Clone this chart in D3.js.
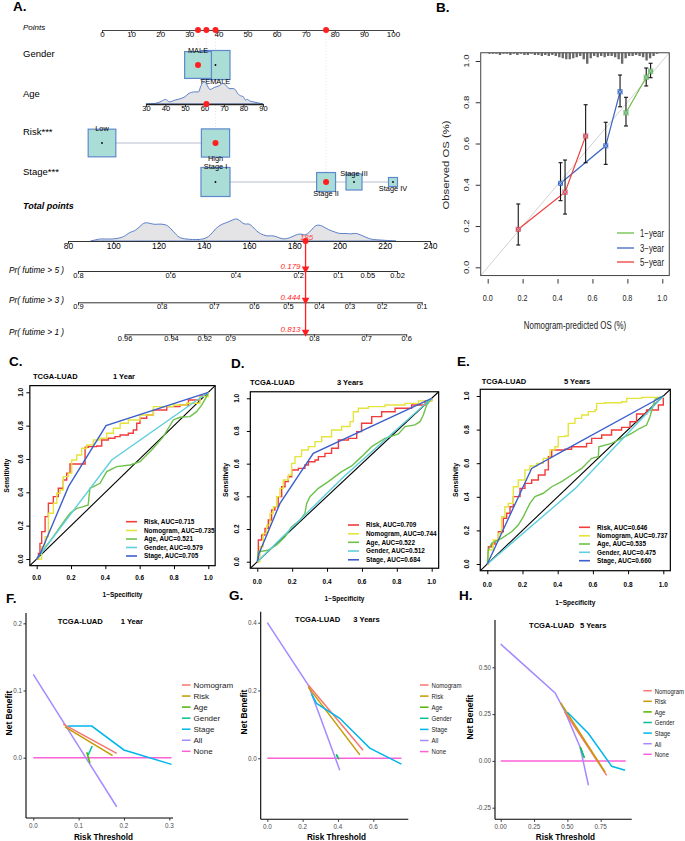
<!DOCTYPE html>
<html><head><meta charset="utf-8">
<script src="https://cdnjs.cloudflare.com/ajax/libs/d3/7.8.5/d3.min.js"></script>
<style>html,body{margin:0;padding:0;background:#fff;}svg{display:block;}</style>
</head><body>
<svg id="chart" width="685" height="841" xmlns="http://www.w3.org/2000/svg"></svg>
<script>
// ======================= DATA =======================
// --- Panel A: nomogram ---
const pointsTicks = [0,10,20,30,40,50,60,70,80,90,100];
const genderLevels = ["MALE","FEMALE"];
const genderPoints = [33,39];
const genderFreq = [0.46,0.54];
const ageTicks = [30,40,50,60,70,80,90];
const ageRangePoints = [15.1,55.3];          // points at age 30 and at age 90
const ageDensity = [[30,0],[35,0.03],[38,0.13],[40,0.21],[42,0.10],[45,0.18],[48,0.25],[50,0.33],[52,0.48],[55,0.55],[57,0.55],[58,0.78],[59,0.96],[60,1.0],[61,0.93],[62,0.75],[63,0.66],[64,0.70],[65,0.75],[66,0.78],[67,0.81],[68,0.85],[69,0.93],[70,0.93],[71,0.85],[72,0.75],[73,0.70],[75,0.70],[76,0.63],[77,0.48],[78,0.40],[79,0.36],[80,0.33],[81,0.18],[82,0.21],[83,0.15],[85,0.10],[87,0.06],[90,0]];
const riskLevels = ["Low","High"];
const riskPoints = [0,39];
const riskFreq = [0.49,0.51];
const stageLevels = ["Stage I","Stage II","Stage III","Stage IV"];
const stagePoints = [39,77,86.6,100];
const stageFreq = [0.54,0.23,0.164,0.052];
const selGender = "MALE", selAge = 61, selRisk = "High", selStage = "Stage II";
const totalTicks = [80,100,120,140,160,180,200,220,240];
const totalDensity = [[90,0],[93,0.07],[95,0.10],[100,0.07],[105,0.17],[107,0.39],[110,0.43],[113,0.78],[115,0.81],[118,0.71],[120,0.74],[123,0.73],[125,0.60],[128,0.24],[130,0.10],[135,0.06],[140,0.06],[143,0.24],[145,0.53],[148,0.74],[150,0.79],[153,0.93],[155,1.0],[158,0.67],[160,0.81],[163,0.46],[165,0.31],[168,0.20],[170,0.24],[172,0.20],[175,0.06],[178,0.13],[180,0.24],[183,0.34],[185,0.20],[188,0.53],[190,0.74],[193,0.63],[195,0.49],[198,0.39],[200,0.31],[203,0.34],[205,0.29],[207,0.36],[210,0.24],[213,0.10],[215,0.06],[220,0.03],[225,0]];
const totalScore = 185;
const survLabels = ["Pr( futime > 5 )","Pr( futime > 3 )","Pr( futime > 1 )"];
const survPred = [0.179,0.444,0.813];
const survTicks = [[0.8,0.6,0.4,0.2,0.1,0.05,0.02],[0.9,0.8,0.7,0.6,0.5,0.4,0.3,0.2,0.1],[0.96,0.94,0.92,0.9,0.8,0.7,0.6]];
const cloglogSlope = 0.0203;   // change of log(-log S) per total point

// --- Panel B: calibration [predicted, observed, lower, upper] ---
const calib1y = [[0.792,0.749,0.685,0.824],[0.908,0.921,0.879,0.966],[0.933,0.951,0.919,0.989]];
const calib3y = [[0.417,0.407,0.323,0.507],[0.676,0.589,0.499,0.703],[0.758,0.851,0.778,0.932]];
const calib5y = [[0.175,0.184,0.108,0.307],[0.443,0.364,0.258,0.520],[0.561,0.636,0.507,0.788]];
const calibTicks = [0,0.2,0.4,0.6,0.8,1.0];
const predHist = [1,1,1,2,1,1,2,1,2,1,2,2,1,2,2,3,2,3,2,3,4,5,6,6,5,4,3,6,10,5,3,4,3,4,3,3,4,6,10,5,3,3,2,3,4,7,5,3,1,0];

// --- Panels C-E: ROC curves [1-specificity, sensitivity] ---
const rocNames = ["Risk","Nomogram","Age","Gender","Stage"];
const auc1y = [0.715,0.735,0.521,0.579,0.705];
const auc3y = [0.709,0.744,0.522,0.512,0.684];
const auc5y = [0.646,0.737,0.535,0.475,0.660];
const roc1yRisk = [[0,0],[0.01,0.034],[0.019,0.094],[0.029,0.164],[0.049,0.254],[0.068,0.334],[0.097,0.374],[0.126,0.424],[0.155,0.474],[0.175,0.514],[0.194,0.57],[0.262,0.57],[0.282,0.67],[0.301,0.674],[0.35,0.678],[0.379,0.714],[0.417,0.724],[0.456,0.734],[0.486,0.744],[0.534,0.754],[0.563,0.774],[0.583,0.814],[0.602,0.844],[0.641,0.864],[0.68,0.894],[0.758,0.914],[0.835,0.924],[0.884,0.954],[0.952,0.978],[1,1]];
const roc1yNomogram = [[0,0],[0.029,0.074],[0.049,0.134],[0.068,0.274],[0.097,0.334],[0.117,0.394],[0.136,0.414],[0.155,0.494],[0.184,0.514],[0.204,0.594],[0.233,0.624],[0.262,0.664],[0.291,0.684],[0.33,0.714],[0.369,0.724],[0.408,0.754],[0.447,0.784],[0.486,0.814],[0.534,0.834],[0.602,0.864],[0.68,0.914],[0.796,0.924],[0.874,0.934],[0.952,0.974],[1,1]];
const roc1yAge = [[0,0],[0.039,0.054],[0.097,0.134],[0.165,0.234],[0.194,0.274],[0.233,0.304],[0.272,0.314],[0.3,0.324],[0.31,0.424],[0.369,0.454],[0.408,0.524],[0.466,0.554],[0.544,0.564],[0.602,0.584],[0.67,0.654],[0.738,0.734],[0.796,0.834],[0.835,0.85],[0.893,0.854],[0.932,0.884],[0.962,0.924],[0.99,0.974],[1,1]];
const roc1yGender = [[0,0],[0.437,0.594],[1,1]];
const roc1yStage = [[0,0],[0.02,0.03],[0.185,0.434],[0.404,0.8],[1,1]];
const roc3yRisk = [[0,0],[0.006,0.133],[0.025,0.163],[0.044,0.204],[0.063,0.255],[0.082,0.316],[0.101,0.337],[0.12,0.398],[0.14,0.459],[0.159,0.49],[0.178,0.52],[0.197,0.561],[0.235,0.571],[0.273,0.592],[0.293,0.612],[0.331,0.622],[0.35,0.643],[0.388,0.663],[0.426,0.694],[0.465,0.745],[0.522,0.755],[0.57,0.796],[0.598,0.847],[0.656,0.888],[0.713,0.918],[0.79,0.939],[0.885,0.959],[0.962,0.986],[1,1]];
const roc3yNomogram = [[0,0],[0.015,0.092],[0.034,0.173],[0.054,0.224],[0.073,0.296],[0.092,0.337],[0.111,0.398],[0.13,0.449],[0.149,0.5],[0.178,0.531],[0.197,0.602],[0.216,0.643],[0.254,0.684],[0.293,0.704],[0.331,0.735],[0.369,0.765],[0.426,0.806],[0.484,0.827],[0.532,0.857],[0.551,0.918],[0.579,0.939],[0.637,0.949],[0.732,0.959],[0.847,0.969],[0.924,0.984],[1,1]];
const roc3yAge = [[0,0],[0.005,0.06],[0.06,0.07],[0.111,0.102],[0.159,0.153],[0.197,0.214],[0.245,0.255],[0.273,0.296],[0.283,0.357],[0.302,0.398],[0.35,0.449],[0.407,0.49],[0.484,0.551],[0.541,0.586],[0.598,0.643],[0.656,0.704],[0.732,0.755],[0.771,0.769],[0.809,0.782],[0.847,0.827],[0.904,0.837],[0.933,0.857],[0.952,0.898],[0.971,0.959],[1,1]];
const roc3yGender = [[0,0],[0.5,0.524],[1,1]];
const roc3yStage = [[0,0],[0.01,0.05],[0.13,0.357],[0.321,0.663],[1,1]];
const roc5yRisk = [[0,0],[0.006,0.103],[0.025,0.119],[0.044,0.139],[0.063,0.192],[0.091,0.272],[0.11,0.302],[0.129,0.341],[0.148,0.401],[0.186,0.45],[0.214,0.48],[0.252,0.5],[0.29,0.53],[0.328,0.56],[0.347,0.639],[0.366,0.679],[0.441,0.683],[0.479,0.698],[0.564,0.718],[0.593,0.748],[0.65,0.768],[0.706,0.798],[0.763,0.813],[0.811,0.847],[0.848,0.893],[0.905,0.917],[0.972,0.946],[1,0.956],[1,1]];
const roc5yNomogram = [[0,0],[0.006,0.083],[0.034,0.143],[0.063,0.183],[0.081,0.282],[0.1,0.341],[0.119,0.361],[0.148,0.46],[0.176,0.5],[0.214,0.56],[0.242,0.583],[0.28,0.599],[0.318,0.629],[0.356,0.679],[0.384,0.698],[0.403,0.758],[0.441,0.762],[0.46,0.837],[0.498,0.867],[0.536,0.887],[0.574,0.907],[0.612,0.917],[0.621,0.956],[0.669,0.96],[0.763,0.966],[0.792,0.986],[0.877,0.992],[1,1]];
const roc5yAge = [[0,0],[0.006,0.083],[0.025,0.123],[0.081,0.153],[0.138,0.192],[0.176,0.232],[0.205,0.282],[0.242,0.361],[0.271,0.401],[0.318,0.421],[0.366,0.46],[0.422,0.49],[0.479,0.53],[0.536,0.569],[0.593,0.629],[0.631,0.639],[0.634,0.698],[0.706,0.718],[0.763,0.748],[0.82,0.778],[0.867,0.808],[0.905,0.827],[0.924,0.877],[0.943,0.946],[0.953,0.98],[1,1]];
const roc5yGender = [[0,0],[0.5,0.45],[1,1]];
const roc5yStage = [[0,0],[0.252,0.569],[0.4,0.655],[1,1]];

// --- Panels F-H: decision curves [threshold, net benefit] ---
const dcaNames = ["Nomogram","Risk","Age","Gender","Stage","All","None"];
const dca1yNomogram = [[0.066,0.050],[0.184,0.0065]];
const dca1yRisk = [[0.07,0.046],[0.175,0.003]];
const dca1yAge = [[0.118,0.008],[0.125,-0.008]];
const dca1yGender = [[0.121,0.004],[0.130,0.0174]];
const dca1yStage = [[0.077,0.047],[0.129,0.047],[0.2,0.0115],[0.305,-0.0099]];
const dca1yAll = [[0,0.124],[0.184,-0.073]];
const dca1yNone = [[0,0],[0.305,0]];
const dca3yNomogram = [[0.232,0.216],[0.542,0.024]];
const dca3yRisk = [[0.232,0.21],[0.524,0.01]];
const dca3yAge = [[0.39,0.012],[0.405,-0.003]];
const dca3yGender = [[0.392,0.01],[0.402,0.0]];
const dca3yStage = [[0.25,0.19],[0.279,0.162],[0.41,0.118],[0.58,0.03],[0.759,-0.017]];
const dca3yAll = [[0,0.4],[0.232,0.216],[0.3,0.121],[0.41,-0.035]];
const dca3yNone = [[0,0],[0.759,0]];
const dca5yNomogram = [[0.48,0.262],[0.795,-0.077]];
const dca5yRisk = [[0.45,0.31],[0.783,-0.06]];
const dca5yAge = [[0.595,0.075],[0.628,0.016]];
const dca5yGender = [[0.6,0.07],[0.625,0.02]];
const dca5yStage = [[0.5,0.26],[0.658,0.146],[0.833,-0.029],[0.933,-0.05]];
const dca5yAll = [[0,0.624],[0.408,0.363],[0.483,0.262],[0.595,0.075],[0.658,-0.13]];
const dca5yNone = [[0,0],[0.938,0]];

// ======================= DRAWING =======================
const FONT = '"Liberation Sans", Arial, Helvetica, sans-serif';
const svg = d3.select("#chart").attr("font-family", FONT);
const RED = "#ff1f1f";

function txt(g, x, y, s, o = {}) {
  const t = g.append("text").text(s)
    .attr("font-size", o.size || 8).attr("fill", o.fill || "#000")
    .attr("text-anchor", o.anchor || "start");
  if (o.bold) t.attr("font-weight", "bold");
  if (o.italic) t.attr("font-style", "italic");
  let tr = `translate(${x},${y})`;
  if (o.sx) tr += ` scale(${o.sx},1)`;
  if (o.rotate) tr += ` rotate(-90)`;
  t.attr("transform", tr);
  return t;
}
function styleAxis(a, o) {
  a.attr("font-family", FONT).attr("font-size", o.size);
  a.selectAll(".tick line").attr("stroke", o.tickColor || "#000").attr("stroke-width", o.tw || 1);
  a.selectAll(".tick text").attr("fill", o.fill || "#000").attr("font-weight", o.bold ? "bold" : null);
  if (o.noDomain) a.select(".domain").remove();
  else a.select(".domain").attr("stroke", o.line || "#000").attr("stroke-width", o.lw || 1);
}

// ---------------- Panel letters ----------------
[["A.",13,11],["B.",436,12],["C.",9,366],["D.",231,368],["E.",457,366],["F.",6,603],["G.",229,600],["H.",459,600]]
  .forEach(d => txt(svg, d[1], d[2], d[0], {size: 13.5, bold: true}));

// ---------------- Panel A ----------------
(function () {
  const g = svg.append("g");
  const px = d3.scaleLinear().domain([0, 100]).range([102, 393]);
  const tx = d3.scaleLinear().domain([80, 240]).range([68, 430]);
  const side = d3.scaleSqrt().domain([0, 1]).range([0, 39.5]);
  const agePts = d3.scaleLinear().domain([30, 90]).range(ageRangePoints);
  const Y = {pts: 30, gender: 65, age: 104, risk: 143, stage: 182, total: 241};
  const survY = [271, 302.3, 334.3];
  const axisCol = "#444";

  // row labels
  txt(g, 23, 30, "Points", {size: 8, italic: true});
  txt(g, 23, 57, "Gender", {size: 9.5});
  txt(g, 23, 97, "Age", {size: 9.5});
  txt(g, 23, 135, "Risk***", {size: 9.5});
  txt(g, 23, 175, "Stage***", {size: 9.5});
  txt(g, 23, 209, "Total points", {size: 9, bold: true, italic: true});
  survLabels.forEach((s, i) => txt(g, 9, [273, 303, 335][i], s, {size: 8.3, italic: true}));

  // selected points
  const selPts = [
    {p: genderPoints[genderLevels.indexOf(selGender)], y: Y.gender},
    {p: agePts(selAge), y: Y.age},
    {p: riskPoints[riskLevels.indexOf(selRisk)], y: Y.risk},
    {p: stagePoints[stageLevels.indexOf(selStage)], y: Y.stage}
  ];
  // faint dotted guides
  selPts.forEach(d => g.append("line").attr("x1", px(d.p)).attr("x2", px(d.p)).attr("y1", Y.pts).attr("y2", d.y)
    .attr("stroke", "#f6cccc").attr("stroke-width", 0.7).attr("stroke-dasharray", "1,2"));

  // Points axis
  const aP = g.append("g").attr("transform", `translate(0,${Y.pts})`)
    .call(d3.axisBottom(px).tickValues(pointsTicks).tickSize(3).tickSizeOuter(0).tickPadding(-1.5));
  styleAxis(aP, {size: 8, line: axisCol, tickColor: axisCol});

  // categorical rows
  function catRow(levels, pts, freq, y) {
    g.append("line").attr("x1", px(d3.min(pts))).attr("x2", px(d3.max(pts))).attr("y1", y).attr("y2", y)
      .attr("stroke", "#b7bccf").attr("stroke-width", 1);
    const order = levels.map((_, i) => i).reverse();
    order.forEach(i => {
      const s = side(freq[i]);
      g.append("rect").attr("x", px(pts[i]) - s / 2).attr("y", y - s / 2).attr("width", s).attr("height", s)
        .attr("fill", "#a9ddd6").attr("stroke", "#6088cc").attr("stroke-width", 1.2);
      g.append("circle").attr("cx", px(pts[i])).attr("cy", y).attr("r", 0.9).attr("fill", "#000");
    });
    levels.forEach((lv, i) => {
      const s = side(freq[i]);
      const ly = i % 2 === 0 ? y - s / 2 + 1.8 : y + s / 2 + 4.2;
      txt(g, px(pts[i]), ly, lv, {size: 7.4, anchor: "middle"});
    });
  }
  catRow(genderLevels, genderPoints, genderFreq, Y.gender);

  // Age density + axis
  const ageH = 22;
  g.append("path").datum(ageDensity)
    .attr("d", d3.area().x(d => px(agePts(d[0]))).y0(Y.age).y1(d => Y.age - d[1] * ageH).curve(d3.curveMonotoneX))
    .attr("fill", "#e4e4e6").attr("stroke", "#4a72c4").attr("stroke-width", 0.9);
  const ageScale = d3.scaleLinear().domain([30, 90]).range([px(agePts(30)), px(agePts(90))]);
  const aA = g.append("g").attr("transform", `translate(0,${Y.age})`)
    .call(d3.axisBottom(ageScale).tickValues(ageTicks).tickSize(3).tickSizeOuter(0).tickPadding(-1.5));
  styleAxis(aA, {size: 7.5, line: "#222", tickColor: "#222", lw: 1.3});

  catRow(riskLevels, riskPoints, riskFreq, Y.risk);
  catRow(stageLevels, stagePoints, stageFreq, Y.stage);

  // Total points density + axis
  const totH = 23;
  g.append("path").datum(totalDensity)
    .attr("d", d3.area().x(d => tx(d[0])).y0(Y.total).y1(d => Y.total - d[1] * totH).curve(d3.curveBasis))
    .attr("fill", "#e4e4e6").attr("stroke", "#4a72c4").attr("stroke-width", 0.9);
  const aT = g.append("g").attr("transform", `translate(0,${Y.total})`)
    .call(d3.axisBottom(tx).tickValues(totalTicks).tickSize(3).tickSizeOuter(0).tickPadding(-1.5));
  styleAxis(aT, {size: 8.5, line: "#333", tickColor: "#333"});

  // survival axes (complementary log-log relation to total points)
  const cll = p => Math.log(-Math.log(p));
  survTicks.forEach((ticks, i) => {
    const ptsOf = p => totalScore + (cll(p) - cll(survPred[i])) / cloglogSlope;
    const tp = ticks.map(ptsOf);
    const sc = d3.scaleLinear().domain([tp[0], tp[tp.length - 1]]).range([tx(tp[0]), tx(tp[tp.length - 1])]);
    const a = g.append("g").attr("transform", `translate(0,${survY[i]})`)
      .call(d3.axisBottom(sc).tickValues(tp).tickFormat((d, j) => String(ticks[j])).tickSize(3).tickSizeOuter(0).tickPadding(-1.5));
    styleAxis(a, {size: 7.5, line: "#333", tickColor: "#333"});
  });

  // red path
  const xs = tx(totalScore);
  g.append("line").attr("x1", xs).attr("x2", xs).attr("y1", Y.total).attr("y2", survY[2])
    .attr("stroke", RED).attr("stroke-width", 1.3);
  survY.forEach((yy, i) => {
    g.append("path").attr("d", `M${xs - 3.8},${yy - 4.5}L${xs + 3.8},${yy - 4.5}L${xs},${yy + 2.5}Z`).attr("fill", RED);
    txt(g, xs - 5, yy - 2.5, survPred[i].toFixed(3), {size: 8, italic: true, fill: RED, anchor: "end"});
  });
  g.append("circle").attr("cx", xs).attr("cy", Y.total).attr("r", 3).attr("fill", RED);
  txt(g, xs + 1, Y.total - 1, String(totalScore), {size: 8, italic: true, fill: RED, anchor: "middle"}).attr("opacity", 0.8);

  // red dots
  selPts.forEach(d => {
    g.append("circle").attr("cx", px(d.p)).attr("cy", d.y).attr("r", 3).attr("fill", RED);
    g.append("circle").attr("cx", px(d.p)).attr("cy", Y.pts).attr("r", 3).attr("fill", RED);
  });
})();

// ---------------- Panel B ----------------
(function () {
  const g = svg.append("g");
  const x = d3.scaleLinear().domain([0, 1]).range([487.7, 662.3]);
  const y = d3.scaleLinear().domain([0, 1]).range([267.3, 61]);
  const L = x(-0.04), R = x(1.04), T = y(1.04), B = y(-0.04);
  g.append("clipPath").attr("id", "clipB").append("rect").attr("x", L).attr("y", T).attr("width", R - L).attr("height", B - T);
  const inner = g.append("g").attr("clip-path", "url(#clipB)");
  inner.append("line").attr("x1", x(-0.1)).attr("y1", y(-0.1)).attr("x2", x(1.1)).attr("y2", y(1.1))
    .attr("stroke", "#d2d2d2").attr("stroke-width", 1);
  // distribution of predictions
  const hs = d3.scaleLinear().domain([0, 10]).range([0, 11]);
  predHist.forEach((c, i) => {
    if (c > 0) inner.append("line").attr("x1", x((i + 0.5) / predHist.length)).attr("x2", x((i + 0.5) / predHist.length))
      .attr("y1", T).attr("y2", T + hs(c)).attr("stroke", "#6a6a6a").attr("stroke-width", 2.4);
  });
  g.append("rect").attr("x", L).attr("y", T).attr("width", R - L).attr("height", B - T)
    .attr("fill", "none").attr("stroke", "#444").attr("stroke-width", 1);

  const series = [{d: calib1y, c: "#6cbd45", n: "1\u2212year"}, {d: calib3y, c: "#3c67c4", n: "3\u2212year"}, {d: calib5y, c: "#f03c3c", n: "5\u2212year"}];
  const line = d3.line().x(d => x(d[0])).y(d => y(d[1]));
  series.forEach(s => inner.append("path").datum(s.d).attr("d", line).attr("fill", "none").attr("stroke", s.c).attr("stroke-width", 1.2));
  series.forEach(s => s.d.forEach(d => {
    const cx = x(d[0]);
    g.append("line").attr("x1", cx).attr("x2", cx).attr("y1", y(d[2])).attr("y2", y(d[3])).attr("stroke", "#111").attr("stroke-width", 1.1);
    [d[2], d[3]].forEach(v => g.append("line").attr("x1", cx - 2).attr("x2", cx + 2).attr("y1", y(v)).attr("y2", y(v)).attr("stroke", "#111").attr("stroke-width", 1.1));
    g.append("rect").attr("x", cx - 2.5).attr("y", y(d[1]) - 2.5).attr("width", 5).attr("height", 5).attr("fill", s.c);
    g.append("path").attr("d", `M${cx - 2.6},${y(d[1]) - 2.6}L${cx + 2.6},${y(d[1]) + 2.6}M${cx - 2.6},${y(d[1]) + 2.6}L${cx + 2.6},${y(d[1]) - 2.6}`)
      .attr("stroke", "#9dbbea").attr("stroke-width", 0.9);
  }));

  // axes
  const ax = g.append("g").attr("transform", `translate(0,${B + 3.5})`)
    .call(d3.axisBottom(x).tickValues(calibTicks).tickSize(4.5).tickSizeOuter(0).tickFormat(() => ""));
  styleAxis(ax, {size: 9, noDomain: true, tickColor: "#333"});
  calibTicks.forEach(v => txt(g, x(v), 300.5, v.toFixed(1), {size: 9.6, anchor: "middle", sx: 0.75, fill: "#222"}));
  const ay = g.append("g").attr("transform", `translate(${L - 0.5},0)`)
    .call(d3.axisLeft(y).tickValues(calibTicks).tickSize(4.5).tickSizeOuter(0).tickFormat(() => ""));
  styleAxis(ay, {size: 9, noDomain: true, tickColor: "#333"});
  calibTicks.forEach(v => txt(g, 468.5, y(v), v.toFixed(1), {size: 9.6, anchor: "middle", sx: 0.78, rotate: true, fill: "#222"}));
  txt(g, 449, 165, "Observed OS (%)", {size: 11.3, anchor: "middle", sx: 0.78, rotate: true, fill: "#222"});
  txt(g, 575, 328.5, "Nomogram-predicted OS (%)", {size: 11.3, anchor: "middle", sx: 0.7, fill: "#222"});

  // legend
  series.forEach((s, i) => {
    const ly = [233, 248, 262][i];
    g.append("line").attr("x1", 617).attr("x2", 634).attr("y1", ly).attr("y2", ly).attr("stroke", s.c).attr("stroke-width", 1.3);
    txt(g, 640, ly + 3.5, s.n, {size: 10, sx: 0.78, fill: "#222"});
  });
})();

// ---------------- Panels C-E (ROC) ----------------
const rocColors = ["#f23b3b", "#e4e43c", "#6cc24a", "#5fcfdc", "#3d5fcc"];
function rocPanel(o) {
  const g = svg.append("g");
  const x = d3.scaleLinear().domain([0, 1]).range([o.x0, o.x1]);
  const y = d3.scaleLinear().domain([0, 1]).range([o.y0, o.y1]);
  const L = x(-0.04), R = x(1.04), T = y(1.04), B = y(-0.04);
  const cid = "clip" + o.id;
  g.append("clipPath").attr("id", cid).append("rect").attr("x", L).attr("y", T).attr("width", R - L).attr("height", B - T);
  const inner = g.append("g").attr("clip-path", `url(#${cid})`);
  inner.append("line").attr("x1", x(-0.04)).attr("y1", y(-0.04)).attr("x2", x(1.04)).attr("y2", y(1.04))
    .attr("stroke", "#000").attr("stroke-width", 1.1);
  o.curves.forEach((c, i) => {
    const stepped = i < 2;
    inner.append("path").datum(c)
      .attr("d", d3.line().x(d => x(d[0])).y(d => y(d[1])).curve(stepped ? d3.curveStepAfter : d3.curveLinear))
      .attr("fill", "none").attr("stroke", rocColors[i]).attr("stroke-width", 1.4);
  });
  g.append("rect").attr("x", L).attr("y", T).attr("width", R - L).attr("height", B - T)
    .attr("fill", "none").attr("stroke", "#000").attr("stroke-width", 1.2);
  const ticks = [0, 0.2, 0.4, 0.6, 0.8, 1.0];
  const ax = g.append("g").attr("transform", `translate(0,${B})`)
    .call(d3.axisBottom(x).tickValues(ticks).tickSize(3.5).tickSizeOuter(0).tickFormat(() => ""));
  styleAxis(ax, {size: 6.5, noDomain: true});
  ticks.forEach(v => txt(g, x(v), o.xlabY, v.toFixed(1), {size: 6.5, bold: true, anchor: "middle"}));
  const ay = g.append("g").attr("transform", `translate(${L},0)`)
    .call(d3.axisLeft(y).tickValues(ticks).tickSize(3.5).tickSizeOuter(0).tickFormat(() => ""));
  styleAxis(ay, {size: 6.5, noDomain: true});
  ticks.forEach(v => txt(g, o.ylabX, y(v), v.toFixed(1), {size: 6.5, bold: true, anchor: "middle", rotate: true}));
  txt(g, o.sensX, (T + B) / 2, "Sensitivity", {size: 6.8, bold: true, anchor: "middle", rotate: true});
  txt(g, (x(0) + x(1)) / 2, o.specY, "1\u2212Specificity", {size: 6.5, bold: true, anchor: "middle"});
  txt(g, o.titleX, o.titleY, "TCGA-LUAD", {size: 7.5, bold: true});
  txt(g, o.subX, o.titleY, o.sub, {size: 7.5, bold: true});
  o.auc.forEach((a, i) => {
    const ly = o.legY[i];
    g.append("line").attr("x1", o.legX).attr("x2", o.legX + 11).attr("y1", ly).attr("y2", ly).attr("stroke", rocColors[i]).attr("stroke-width", 1.6);
    txt(g, o.legX + 18, ly + 2.4, `${rocNames[i]}, AUC=${a.toFixed(3)}`, {size: 6.4, bold: true});
  });
}
rocPanel({id: "C", x0: 36.7, x1: 208.3, y0: 559, y1: 392.3, curves: [roc1yRisk, roc1yNomogram, roc1yAge, roc1yGender, roc1yStage],
  xlabY: 579.5, ylabX: 23, sensX: 9, specY: 597, titleX: 33, titleY: 379, subX: 113, sub: "1 Year",
  auc: auc1y, legX: 126, legY: [521.7, 530.5, 539, 547.5, 556]});
rocPanel({id: "D", x0: 257.3, x1: 431.7, y0: 561.7, y1: 398.3, curves: [roc3yRisk, roc3yNomogram, roc3yAge, roc3yGender, roc3yStage],
  xlabY: 584, ylabX: 239, sensX: 228, specY: 600.5, titleX: 250, titleY: 385, subX: 337, sub: "3 Years",
  auc: auc3y, legX: 348, legY: [525, 533.8, 542.3, 551, 559.8]});
rocPanel({id: "E", x0: 487.3, x1: 663.3, y0: 564, y1: 396, curves: [roc5yRisk, roc5yNomogram, roc5yAge, roc5yGender, roc5yStage],
  xlabY: 586.5, ylabX: 469, sensX: 458, specY: 604.5, titleX: 481.7, titleY: 384, subX: 564, sub: "5 Years",
  auc: auc5y, legX: 579, legY: [527.3, 535.8, 544, 552.3, 560.7]});

// ---------------- Panels F-H (DCA) ----------------
const dcaColors = ["#F8766D", "#C49A00", "#53B400", "#00C094", "#00B6EB", "#A58AFF", "#FB61D7"];
function dcaPanel(o) {
  const g = svg.append("g");
  const x = d3.scaleLinear().domain(o.xd).range(o.xr);
  const y = d3.scaleLinear().domain(o.yd).range(o.yr);
  const line = d3.line().x(d => x(d[0])).y(d => y(d[1]));
  // draw order: None first, then models, All
  const order = [6, 5, 0, 1, 2, 3, 4];
  order.forEach(i => g.append("path").datum(o.series[i]).attr("d", line).attr("fill", "none")
    .attr("stroke", dcaColors[i]).attr("stroke-width", 1.5));
  // axes lines
  g.append("line").attr("x1", o.L).attr("x2", o.L).attr("y1", o.T).attr("y2", o.B).attr("stroke", "#000").attr("stroke-width", 1.1);
  g.append("line").attr("x1", o.L).attr("x2", o.R).attr("y1", o.B).attr("y2", o.B).attr("stroke", "#000").attr("stroke-width", 1.1);
  const ax = g.append("g").attr("transform", `translate(0,${o.B})`)
    .call(d3.axisBottom(x).tickValues(o.xt).tickSize(2.5).tickSizeOuter(0).tickFormat(() => ""));
  styleAxis(ax, {size: 6.5, noDomain: true, tickColor: "#333"});
  o.xt.forEach(v => txt(g, x(v), o.B + 10, d3.format(o.xf)(v), {size: 6.3, anchor: "middle", fill: "#4d4d4d"}));
  const ay = g.append("g").attr("transform", `translate(${o.L},0)`)
    .call(d3.axisLeft(y).tickValues(o.yt).tickSize(2.5).tickSizeOuter(0).tickFormat(() => ""));
  styleAxis(ay, {size: 6.5, noDomain: true, tickColor: "#333"});
  o.yt.forEach(v => txt(g, o.L - 4, y(v) + 2.2, d3.format(o.yf)(v).replace("\u2212", "-"), {size: 6.3, anchor: "end", fill: "#4d4d4d"}));
  txt(g, (o.L + o.R) / 2 + o.rtdx, 840, "Risk Threshold", {size: 8.2, bold: true, anchor: "middle"});
  txt(g, o.nbX, o.nbY, "Net Benefit", {size: 8.5, bold: true, anchor: "middle", rotate: true});
  txt(g, o.titleX, o.titleY, "TCGA-LUAD", {size: 7.6, bold: true});
  txt(g, o.subX, o.titleY, o.sub, {size: 7.6, bold: true});
  dcaNames.forEach((n, i) => {
    const ly = o.legY0 + i * o.legDy;
    g.append("line").attr("x1", o.legX).attr("x2", o.legX + 8.5).attr("y1", ly).attr("y2", ly).attr("stroke", dcaColors[i]).attr("stroke-width", 1.5);
    txt(g, o.legX + 11.5, ly + 2.8, n, {size: o.legSize, sx: o.legSx, fill: "#1a1a1a"});
  });
}
dcaPanel({xd: [0, 0.3], xr: [33.3, 169.3], yd: [0, 0.2], yr: [757.7, 623.3], L: 26, R: 173, T: 613, B: 818,
  xt: [0, 0.1, 0.2, 0.3], xf: ".1f", yt: [0, 0.1, 0.2], yf: ".1f", rtdx: 4, nbX: 12, nbY: 713,
  titleX: 57.7, titleY: 624, subX: 120.7, sub: "1 Year", legX: 182, legY0: 685, legDy: 11.05, legSize: 8, legSx: 1,
  series: [dca1yNomogram, dca1yRisk, dca1yAge, dca1yGender, dca1yStage, dca1yAll, dca1yNone]});
dcaPanel({xd: [0, 0.6], xr: [267.3, 373.3], yd: [0, 0.4], yr: [758.3, 622.7], L: 260.7, R: 408.3, T: 611.7, B: 819.3,
  xt: [0, 0.2, 0.4, 0.6], xf: ".1f", yt: [0, 0.2, 0.4], yf: ".1f", rtdx: 2, nbX: 246.5, nbY: 712,
  titleX: 295, titleY: 621.5, subX: 353.3, sub: "3 Years", legX: 420, legY0: 685, legDy: 11.1, legSize: 7.6, legSx: 0.8,
  series: [dca3yNomogram, dca3yRisk, dca3yAge, dca3yGender, dca3yStage, dca3yAll, dca3yNone]});
dcaPanel({xd: [-0.25, 0.75], xr: [467.4, 600.7], yd: [-0.25, 0.5], yr: [807.7, 667.3], L: 495, R: 631.7, T: 620, B: 819.3,
  xt: [0, 0.25, 0.5, 0.75], xf: ".2f", yt: [-0.25, 0, 0.25, 0.5], yf: ".2f", rtdx: 2, nbX: 473, nbY: 717,
  titleX: 529, titleY: 627.5, subX: 580, sub: "5 Years", legX: 643.3, legY0: 690.7, legDy: 10.6, legSize: 7.4, legSx: 0.8,
  series: [dca5yNomogram, dca5yRisk, dca5yAge, dca5yGender, dca5yStage, dca5yAll, dca5yNone]});
</script>
</body></html>
